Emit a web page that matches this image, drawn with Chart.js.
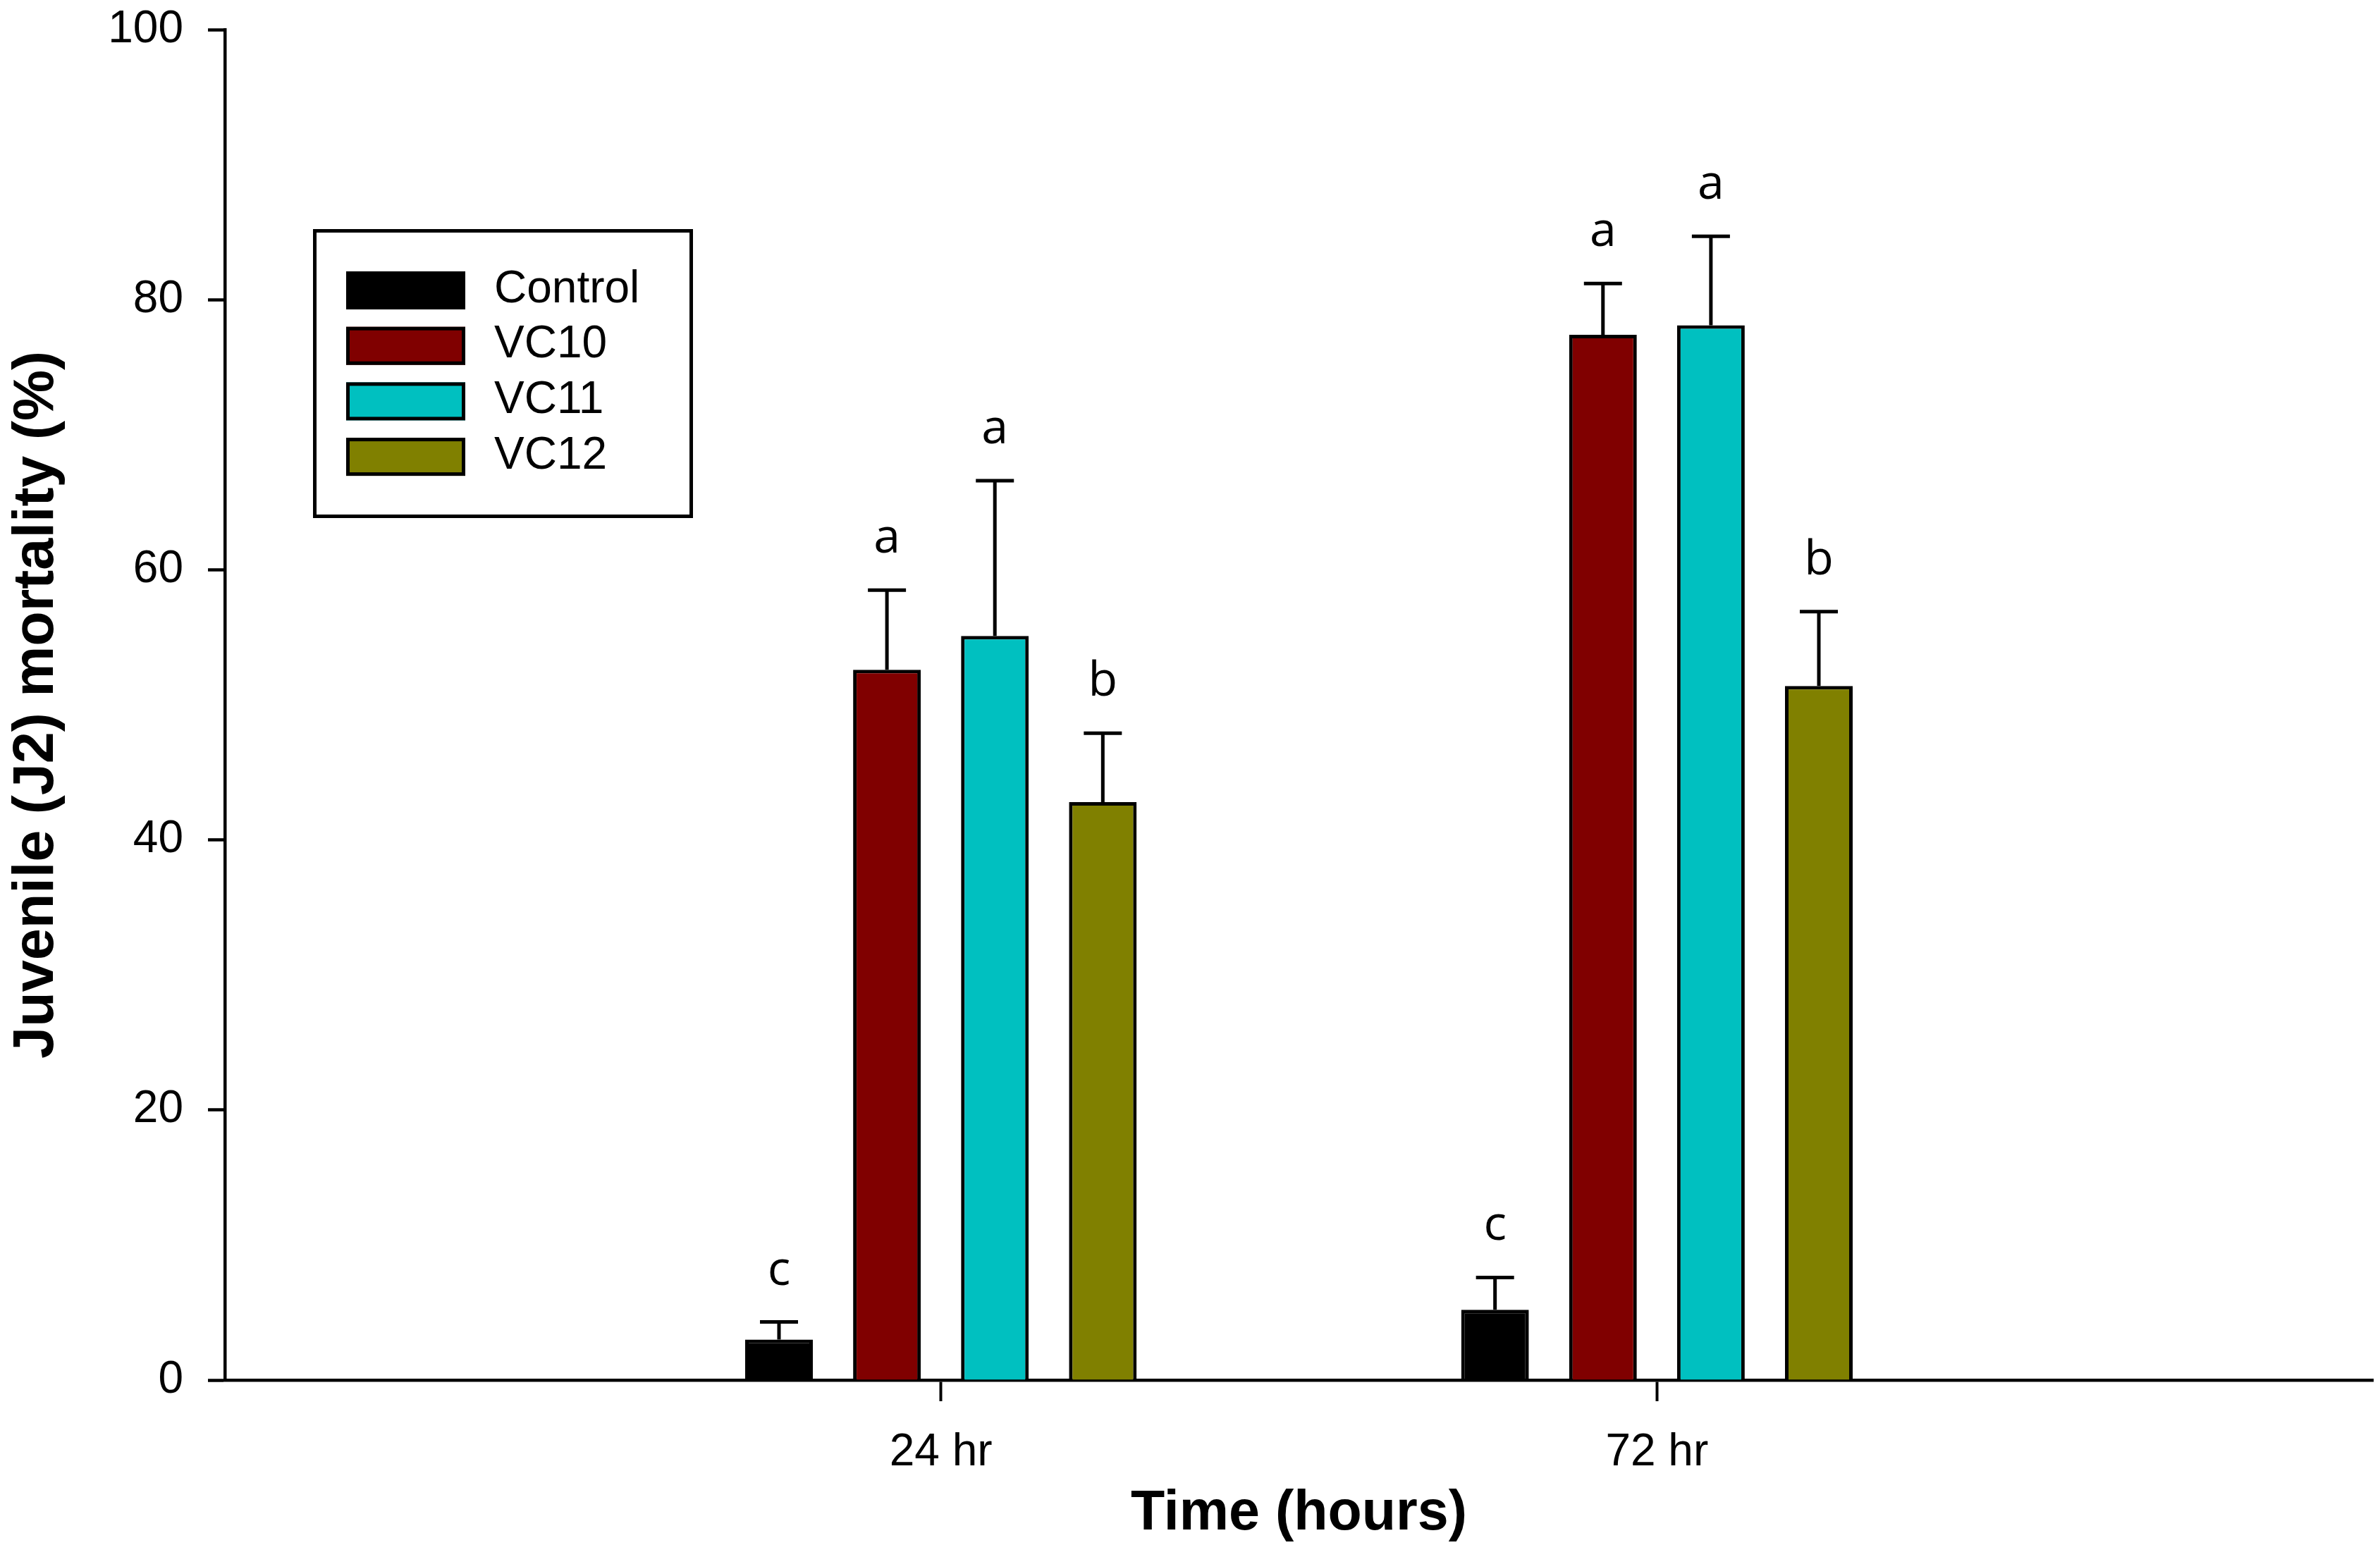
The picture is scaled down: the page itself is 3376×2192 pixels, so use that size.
<!DOCTYPE html>
<html>
<head>
<meta charset="utf-8">
<script src="https://cdn.jsdelivr.net/npm/chart.js@4.4.1/dist/chart.umd.min.js"></script>
<style>
  html, body { margin: 0; padding: 0; background: #ffffff; }
  #wrap { width: 3376px; height: 2192px; position: relative; }
</style>
</head>
<body>
<div id="wrap"><canvas id="c"></canvas></div>
<script>
// ---- data ----
const categories = ['', '24 hr', '72 hr', ''];
const seriesNames = ['Control', 'VC10', 'VC11', 'VC12'];
const controlValues = [null, 3.0, 5.2, null];
const vc10Values    = [null, 52.6, 77.4, null];
const vc11Values    = [null, 55.1, 78.1, null];
const vc12Values    = [null, 42.8, 51.4, null];
const controlErrors = [null, 1.3, 2.4, null];
const vc10Errors    = [null, 5.9, 3.8, null];
const vc11Errors    = [null, 11.5, 6.6, null];
const vc12Errors    = [null, 5.1, 5.5, null];
const controlLetters = [null, 'c', 'c', null];
const vc10Letters    = [null, 'a', 'a', null];
const vc11Letters    = [null, 'a', 'a', null];
const vc12Letters    = [null, 'b', 'b', null];
const yTicks = [0, 20, 40, 60, 80, 100];

const colors = ['#000000', '#800000', '#00C0C0', '#808000'];
const allValues = [controlValues, vc10Values, vc11Values, vc12Values];
const allErrors = [controlErrors, vc10Errors, vc11Errors, vc12Errors];
const allLetters = [controlLetters, vc10Letters, vc11Letters, vc12Letters];

const errPlugin = {
  id: 'errBars',
  afterDatasetsDraw(chart) {
    const ctx = chart.ctx;
    const ys = chart.scales.y;
    ctx.save();
    chart.data.datasets.forEach((ds, di) => {
      const meta = chart.getDatasetMeta(di);
      meta.data.forEach((bar, i) => {
        const v = allValues[di][i];
        if (v == null) return;
        const e = allErrors[di][i];
        const yTop = ys.getPixelForValue(v + e);
        ctx.strokeStyle = '#000';
        ctx.lineWidth = 5;
        ctx.lineCap = 'butt';
        ctx.beginPath();
        ctx.moveTo(bar.x, bar.y);
        ctx.lineTo(bar.x, yTop);
        ctx.moveTo(bar.x - 27, yTop);
        ctx.lineTo(bar.x + 27, yTop);
        ctx.stroke();
        const L = allLetters[di][i];
        if (L) {
          ctx.fillStyle = '#000';
          ctx.font = '68px "Open Sans"';
          ctx.textAlign = 'center';
          ctx.textBaseline = 'alphabetic';
          ctx.fillText(L, bar.x, yTop - 53);
        }
      });
    });
    ctx.restore();
  }
};

const legendPlugin = {
  id: 'boxLegend',
  afterDraw(chart) {
    const ctx = chart.ctx;
    ctx.save();
    ctx.strokeStyle = '#000';
    ctx.lineWidth = 5;
    ctx.strokeRect(446.5, 327.5, 534, 405);
    seriesNames.forEach((name, i) => {
      const cy = 412 + i * 78.7;
      ctx.fillStyle = colors[i];
      ctx.fillRect(491, cy - 27, 169, 54);
      ctx.strokeStyle = '#000';
      ctx.lineWidth = 5;
      ctx.strokeRect(493.5, cy - 24.5, 164, 49);
      ctx.fillStyle = '#000';
      ctx.font = '64px "Liberation Sans", Arial, sans-serif';
      ctx.textAlign = 'left';
      ctx.textBaseline = 'middle';
      ctx.fillText(name, 701, cy - 1);
    });
    ctx.restore();
  }
};

const datasets = seriesNames.map((name, i) => ({
  label: name,
  data: allValues[i],
  backgroundColor: colors[i],
  borderColor: '#000000',
  borderWidth: 5,
  categoryPercentage: 0.603,
  barPercentage: 0.627
}));

function zeroPad(s) { s.paddingLeft = 0; s.paddingRight = 0; s.paddingTop = 0; s.paddingBottom = 0; }

new Chart(document.getElementById('c'), {
  type: 'bar',
  data: { labels: categories, datasets },
  plugins: [errPlugin, legendPlugin],
  options: {
    responsive: true,
    maintainAspectRatio: false,
    devicePixelRatio: 1,
    animation: false,
    layout: { padding: { left: 0, top: 42, right: 10, bottom: 0 } },
    plugins: { legend: { display: false }, tooltip: { enabled: false } },
    scales: {
      x: {
        type: 'category',
        offset: false,
        afterFit(s) { s.height = 234; zeroPad(s); },
        grid: {
          display: true,
          offset: false,
          drawOnChartArea: false,
          drawTicks: true,
          tickLength: 30,
          tickWidth: 4,
          tickColor: (c) => (c.index === 1 || c.index === 2) ? '#000' : 'rgba(0,0,0,0)',
          color: 'rgba(0,0,0,0)'
        },
        border: { display: true, color: '#000', width: 4.5 },
        ticks: {
          color: '#000',
          padding: 35,
          autoSkip: false,
          maxRotation: 0,
          font: { family: '"Liberation Sans", Arial, sans-serif', size: 64 }
        },
        title: {
          display: true,
          text: 'Time (hours)',
          color: '#000',
          padding: { top: 0, bottom: 0 },
          font: { family: '"Liberation Sans", Arial, sans-serif', size: 79, weight: 'bold', lineHeight: 1.1 }
        }
      },
      y: {
        min: 0,
        max: 100,
        afterFit(s) { s.width = 319; zeroPad(s); },
        afterBuildTicks(s) { s.ticks = yTicks.map(v => ({ value: v })); },
        grid: {
          display: true,
          drawOnChartArea: false,
          drawTicks: true,
          tickLength: 24,
          tickWidth: 4.5,
          tickColor: '#000',
          color: 'rgba(0,0,0,0)'
        },
        border: { display: true, color: '#000', width: 4.5 },
        ticks: {
          color: '#000',
          padding: 35,
          font: { family: '"Liberation Sans", Arial, sans-serif', size: 64 }
        },
        title: {
          display: true,
          text: 'Juvenile (J2) mortality (%)',
          color: '#000',
          padding: { top: 6, bottom: 0 },
          font: { family: '"Liberation Sans", Arial, sans-serif', size: 81, weight: 'bold', lineHeight: 1.15 }
        }
      }
    }
  }
});
</script>
</body>
</html>
